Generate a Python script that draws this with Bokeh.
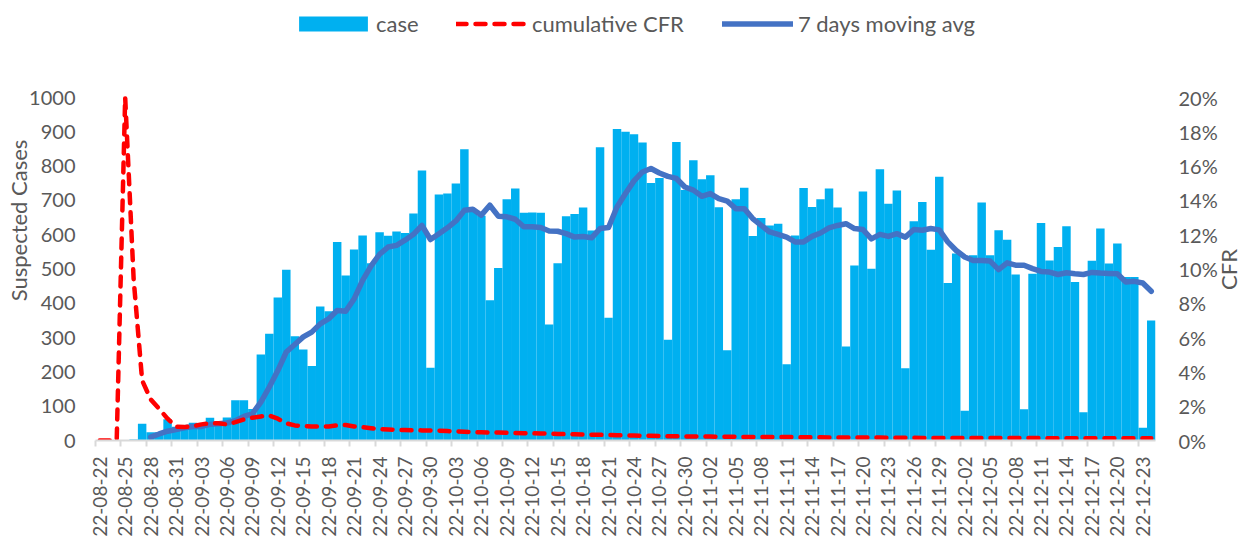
import numpy as np
import pandas as pd
from bokeh.plotting import figure
from bokeh.models import (Range1d, LinearAxis, FixedTicker, PrintfTickFormatter,
                          Legend, LegendItem)
from bokeh.embed import file_html
from bokeh.resources import INLINE

# ---- data ----
dates = [d.strftime("%y-%m-%d") for d in pd.date_range("2022-08-22", "2022-12-24")]

cases = [0, 0, 0, 0, 3, 49, 24, 24, 62, 40,
         38, 52, 49, 66, 52, 67, 117, 117, 92, 251,
         311, 417, 498, 304, 265, 217, 391, 377, 579, 481,
         557, 598, 517, 607, 597, 609, 605, 662, 787, 212,
         717, 720, 749, 849, 670, 655, 409, 503, 703, 735,
         664, 665, 664, 338, 517, 654, 660, 679, 612, 855,
         358, 908, 900, 893, 869, 751, 765, 294, 870, 730,
         817, 762, 773, 680, 263, 703, 737, 596, 649, 627,
         632, 222, 598, 736, 681, 703, 735, 679, 274, 510,
         726, 501, 791, 690, 729, 211, 639, 695, 556, 769,
         459, 545, 87, 540, 694, 540, 613, 585, 484, 91,
         486, 634, 525, 564, 625, 462, 82, 524, 618, 516,
         574, 477, 477, 37, 350]

cfr_pct = [0, 0, 0, 20.0, 9.4, 3.5, 2.4, 1.85, 1.27, 0.8,
           0.78, 0.84, 0.94, 1.0, 1.0, 0.94, 1.07, 1.23, 1.33, 1.4,
           1.46, 1.27, 1.0, 0.88, 0.84, 0.82, 0.82, 0.82, 0.88, 0.9,
           0.82, 0.78, 0.72, 0.66, 0.64, 0.62, 0.61, 0.60, 0.59, 0.58,
           0.57, 0.55, 0.53, 0.51, 0.49, 0.48, 0.47, 0.46, 0.45, 0.44,
           0.43, 0.42, 0.41, 0.40, 0.38, 0.37, 0.36, 0.35, 0.34, 0.33,
           0.32, 0.31, 0.30, 0.29, 0.28, 0.27, 0.26, 0.25, 0.25, 0.24,
           0.24, 0.23, 0.23, 0.22, 0.22, 0.22, 0.21, 0.21, 0.21, 0.20,
           0.20, 0.20, 0.20, 0.19, 0.19, 0.19, 0.18, 0.18, 0.18, 0.18,
           0.17, 0.17, 0.17, 0.16, 0.16, 0.16, 0.16, 0.15, 0.15, 0.15,
           0.15, 0.15, 0.14, 0.14, 0.14, 0.14, 0.14, 0.14, 0.14, 0.14,
           0.14, 0.14, 0.13, 0.13, 0.13, 0.13, 0.13, 0.13, 0.13, 0.13,
           0.13, 0.13, 0.13, 0.13, 0.13]

nan = float("nan")
ma7 = [nan, nan, nan, nan, nan, nan, 10, 19, 27, 32,
       37, 41, 41, 47, 49, 51, 58, 70, 78, 112,
       156, 204, 258, 280, 302, 316, 340, 355, 379, 377,
       413, 467, 509, 543, 564, 569, 584, 601, 627, 586,
       603, 620, 640, 671, 674, 657, 686, 654, 652, 645,
       623, 623, 621, 611, 610, 603, 593, 595, 591, 618,
       621, 681, 720, 757, 783, 793, 780, 770, 764, 739,
       730, 712, 720, 705, 698, 676, 676, 647, 627, 608,
       601, 593, 579, 579, 595, 605, 620, 627, 632, 618,
       615, 588, 601, 595, 603, 593, 615, 613, 618, 614,
       579, 554, 535, 525, 525, 523, 498, 518, 511, 511,
       501, 493, 491, 484, 489, 486, 484, 490, 488, 487,
       486, 462, 464, 459, 435]

cases_max = 1000
cfr_max = 20
cases_ticks = list(range(0, cases_max + 1, 100))
cfr_ticks = list(range(0, cfr_max + 1, 2))
label_step = 3

# ---- styles / layout ----
FONT = "Lato"
GREY = "#595959"
BAR = "#00b0f0"
MA = "#4472c4"
RED = "#ff0000"

FRAME_H = 440          # frame reaches the top of the page (legend lives inside)
AXIS_H = 343           # pixel height of the 0..1000 span
top_factor = FRAME_H / AXIS_H
px_per_pct = AXIS_H / cfr_max
cfr_title_pos = cfr_max / 2 - 21 / px_per_pct   # centre the rotated "CFR"

idx = list(range(len(dates)))

p = figure(frame_width=1060, frame_height=FRAME_H, output_backend="svg",
           toolbar_location=None,
           x_range=Range1d(-0.5, len(dates) - 0.5),
           y_range=Range1d(0, cases_max * top_factor),
           min_border_left=95, min_border_right=40, min_border_top=0,
           min_border_bottom=20)
p.extra_y_ranges = {"cfr": Range1d(0, cfr_max * top_factor)}
p.outline_line_color = None
p.xgrid.visible = False
p.ygrid.visible = False
p.background_fill_color = "white"
p.border_fill_color = "white"

bars = p.vbar(x=idx, top=cases, width=1.0, fill_color=BAR, line_color=None)
ma_line = p.line(idx, ma7, line_color=MA, line_width=5.5, line_join="round",
                 line_cap="round")
cfr_line = p.line(idx, cfr_pct, y_range_name="cfr", line_color=RED, line_width=4.5,
                  line_dash="10 9", line_cap="round", line_join="round")

# x axis
lab_idx = list(range(0, len(dates), label_step))
xa = p.xaxis[0]
xa.ticker = FixedTicker(ticks=lab_idx, minor_ticks=[i - 0.5 for i in lab_idx])
xa.major_label_overrides = {i: dates[i] for i in lab_idx}
xa.major_label_orientation = np.pi / 2
xa.major_tick_out = 0
xa.major_tick_in = 0
xa.minor_tick_out = 6
xa.minor_tick_in = 0
xa.minor_tick_line_color = "#d9d9d9"
xa.minor_tick_line_width = 2
xa.axis_line_color = "#d9d9d9"
xa.axis_line_width = 2
xa.major_label_standoff = 10
xa.major_label_text_font = FONT
xa.major_label_text_font_size = "19px"
xa.major_label_text_color = GREY

# left axis
ya = p.yaxis[0]
ya.ticker = FixedTicker(ticks=cases_ticks)
ya.axis_line_color = None
ya.major_tick_line_color = None
ya.minor_tick_line_color = None
ya.major_tick_out = 0
ya.major_label_standoff = 20
ya.major_label_text_font = FONT
ya.major_label_text_font_size = "20px"
ya.major_label_text_color = GREY
ya.axis_label = "Suspected Cases"
ya.axis_label_text_font = FONT
ya.axis_label_text_font_size = "22px"
ya.axis_label_text_font_style = "normal"
ya.axis_label_text_color = GREY
ya.axis_label_standoff = -6

# right axis (tick labels)
ra = LinearAxis(y_range_name="cfr", ticker=FixedTicker(ticks=cfr_ticks),
                formatter=PrintfTickFormatter(format="%d%%"))
ra.axis_line_color = None
ra.major_tick_line_color = None
ra.minor_tick_line_color = None
ra.major_tick_out = 0
ra.major_label_standoff = 23
ra.major_label_text_font = FONT
ra.major_label_text_font_size = "20px"
ra.major_label_text_color = GREY
p.add_layout(ra, "right")

# right axis title "CFR" (reads bottom-to-top like the reference)
ra2 = LinearAxis(y_range_name="cfr", ticker=FixedTicker(ticks=[cfr_title_pos]),
                 major_label_overrides={cfr_title_pos: "CFR"})
ra2.axis_line_color = None
ra2.major_tick_line_color = None
ra2.minor_tick_line_color = None
ra2.major_tick_out = 0
ra2.major_label_standoff = 8
ra2.major_label_orientation = np.pi / 2
ra2.major_label_text_font = FONT
ra2.major_label_text_font_size = "22px"
ra2.major_label_text_color = GREY
p.add_layout(ra2, "right")

common = dict(orientation="horizontal", padding=0, margin=0,
              border_line_color=None, background_fill_alpha=0,
              label_text_font=FONT, label_text_font_size="22px",
              label_text_color=GREY)

legend_bar = Legend(items=[LegendItem(label="case", renderers=[bars])],
                    location=(195, 403), glyph_width=86, glyph_height=19,
                    label_standoff=0, **common)
legend_lines = Legend(items=[LegendItem(label="cumulative CFR", renderers=[cfr_line]),
                             LegendItem(label="7 days moving avg", renderers=[ma_line])],
                      location=(361, 403), glyph_width=71, glyph_height=15,
                      label_standoff=5, spacing=38, **common)
p.add_layout(legend_bar, "center")
p.add_layout(legend_lines, "center")

open("out.html", "w").write(file_html(p, INLINE))
